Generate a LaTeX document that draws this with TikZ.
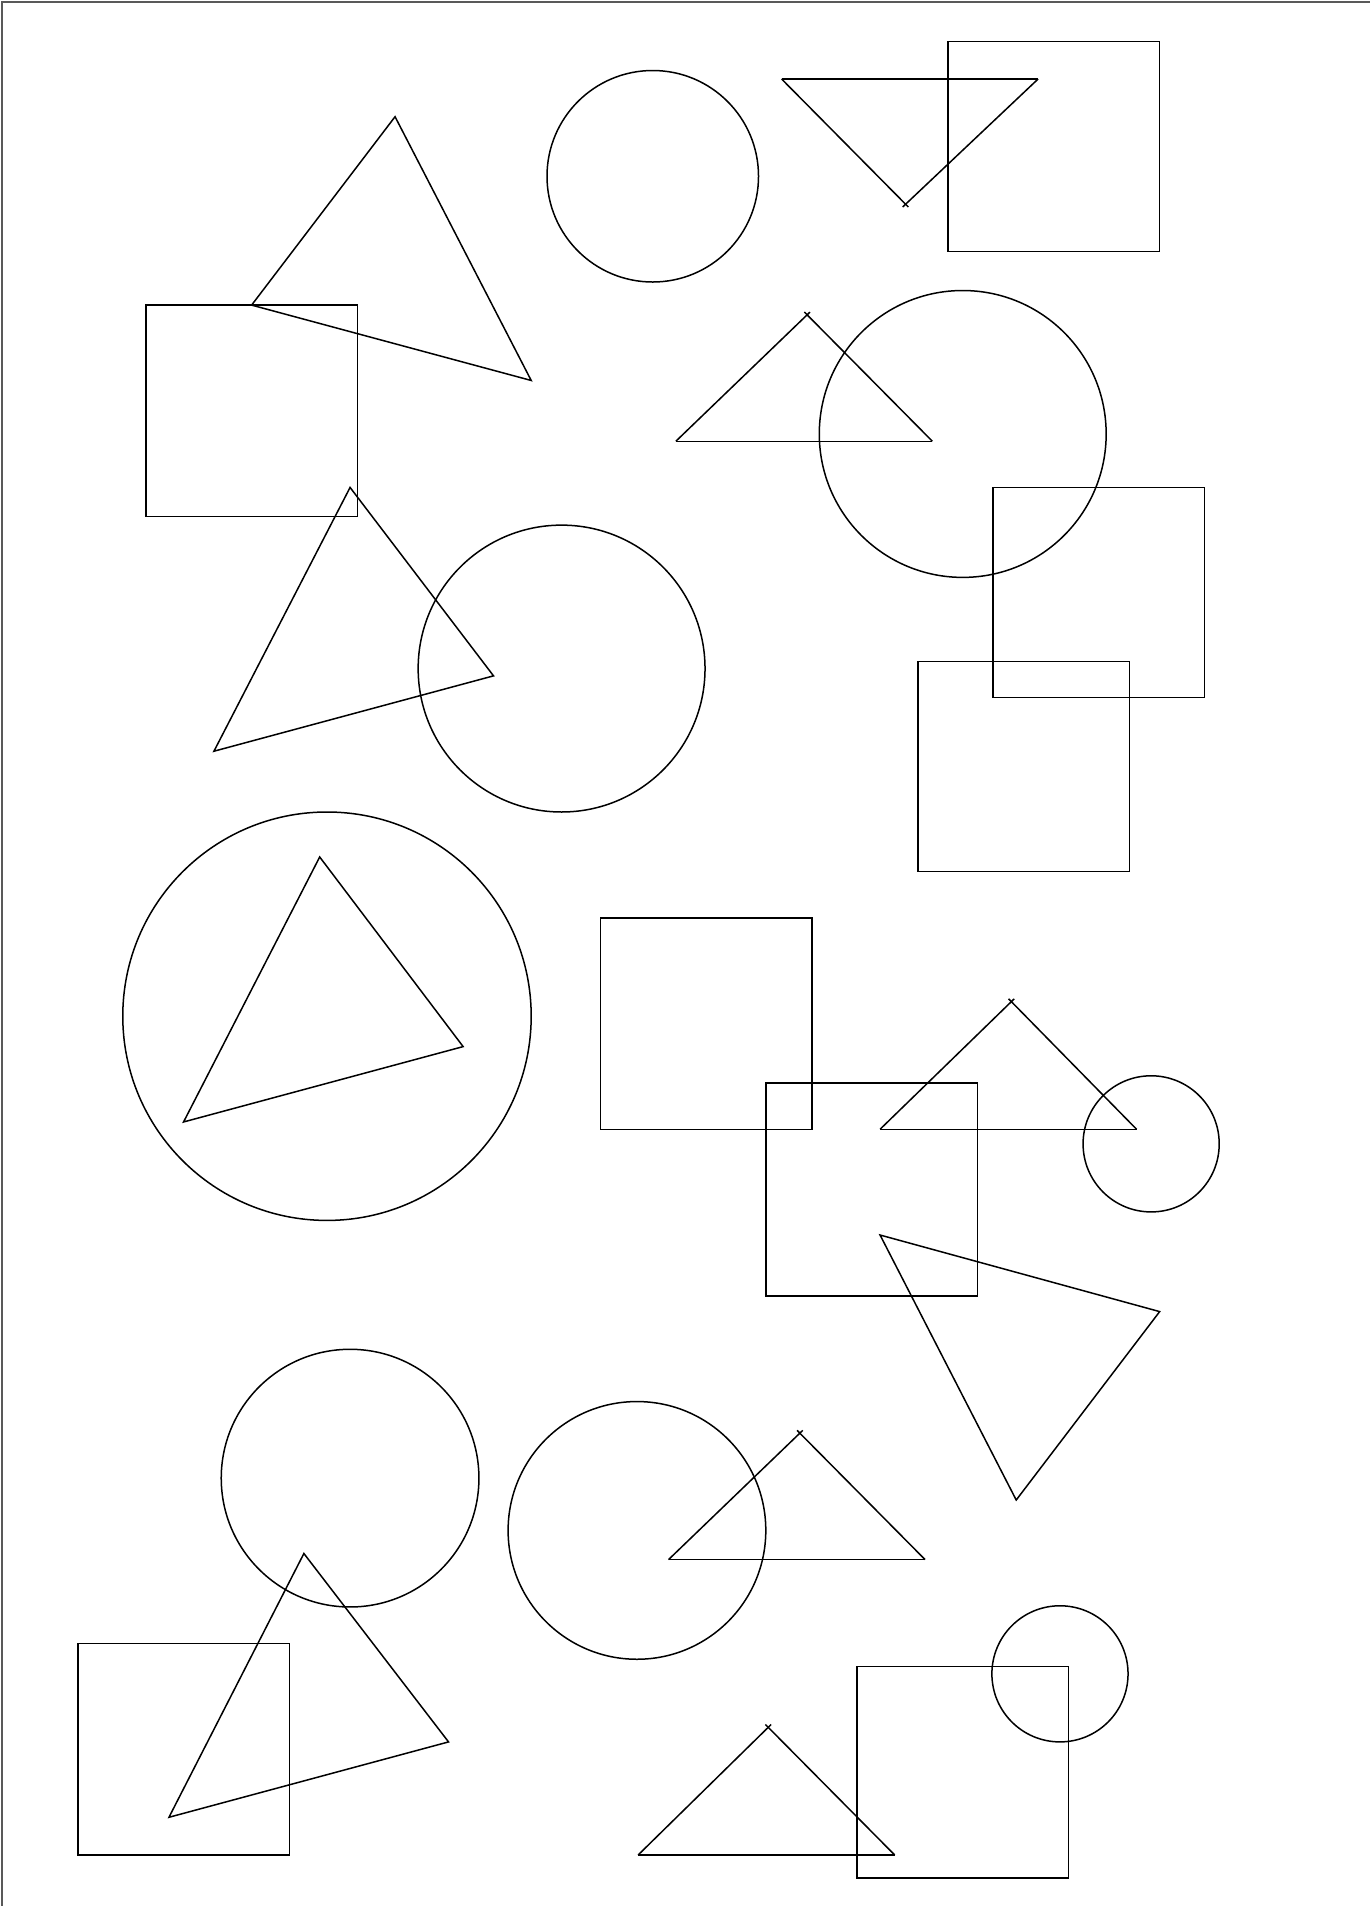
\documentclass[tikz,border=0pt]{standalone}
\usepackage{tikz}
\usetikzlibrary{arrows.meta,positioning}

\begin{document}
\begin{tikzpicture}[x=1.2156pt,y=-1.2156pt,line width=1.5pt,
  outline/.style={line width=1.5pt,line join=miter},
  apexline/.style={line width=1.5pt,shorten <=-4pt}]
\useasboundingbox (0,0) rectangle (1127,1568);
\draw[gray!70!black,line width=1.6pt] (1.5,1568)--(1.5,1.5)--(1127,1.5);
% squares
\draw[outline] (120,251) rectangle ++(174,174);
\draw[outline] (780,34) rectangle ++(174,173);
\draw[outline] (817,401) rectangle ++(174,173);
\draw[outline] (755,544) rectangle ++(174,173);
\draw[outline] (494,755) rectangle ++(174,174);
\draw[outline] (630,891) rectangle ++(174,175);
\draw[outline] (64,1352) rectangle ++(174,174);
\draw[outline] (705,1371) rectangle ++(174,174);
% circles
\draw[outline] (537,145) circle (87);
\draw[outline] (792,357) circle (118);
\draw[outline] (462,550) circle (118);
\draw[outline] (269,836) circle (168);
\draw[outline] (947,941) circle (56);
\draw[outline] (288,1216) circle (106);
\draw[outline] (524,1259) circle (106);
\draw[outline] (872,1377) circle (56);
% triangles
\draw[outline] (325,96)--(207,251)--(437,313)--cycle;
\draw[outline] (288,401)--(406,556)--(176,618)--cycle;
\draw[outline] (263,705)--(381,861)--(151,923)--cycle;
\draw[outline] (724,1016)--(954,1079)--(836,1234)--cycle;
\draw[outline] (250,1278)--(369,1433)--(139,1495)--cycle;
% triangles with crossed apex
\coordinate (t1) at (745,168);
\draw[outline] (643,65)--(854,65);
\draw[apexline] (t1)--(643,65);
\draw[apexline] (t1)--(854,65);
\coordinate (t2) at (664,259);
\draw[outline] (556,363)--(767,363);
\draw[apexline] (t2)--(556,363);
\draw[apexline] (t2)--(767,363);
\coordinate (t3) at (832,824);
\draw[outline] (724,929)--(935,929);
\draw[apexline] (t3)--(724,929);
\draw[apexline] (t3)--(935,929);
\coordinate (t4) at (658,1179);
\draw[outline] (550,1283)--(761,1283);
\draw[apexline] (t4)--(550,1283);
\draw[apexline] (t4)--(761,1283);
\coordinate (t5) at (632,1421);
\draw[outline] (525,1526)--(736,1526);
\draw[apexline] (t5)--(525,1526);
\draw[apexline] (t5)--(736,1526);
\end{tikzpicture}
\end{document}
